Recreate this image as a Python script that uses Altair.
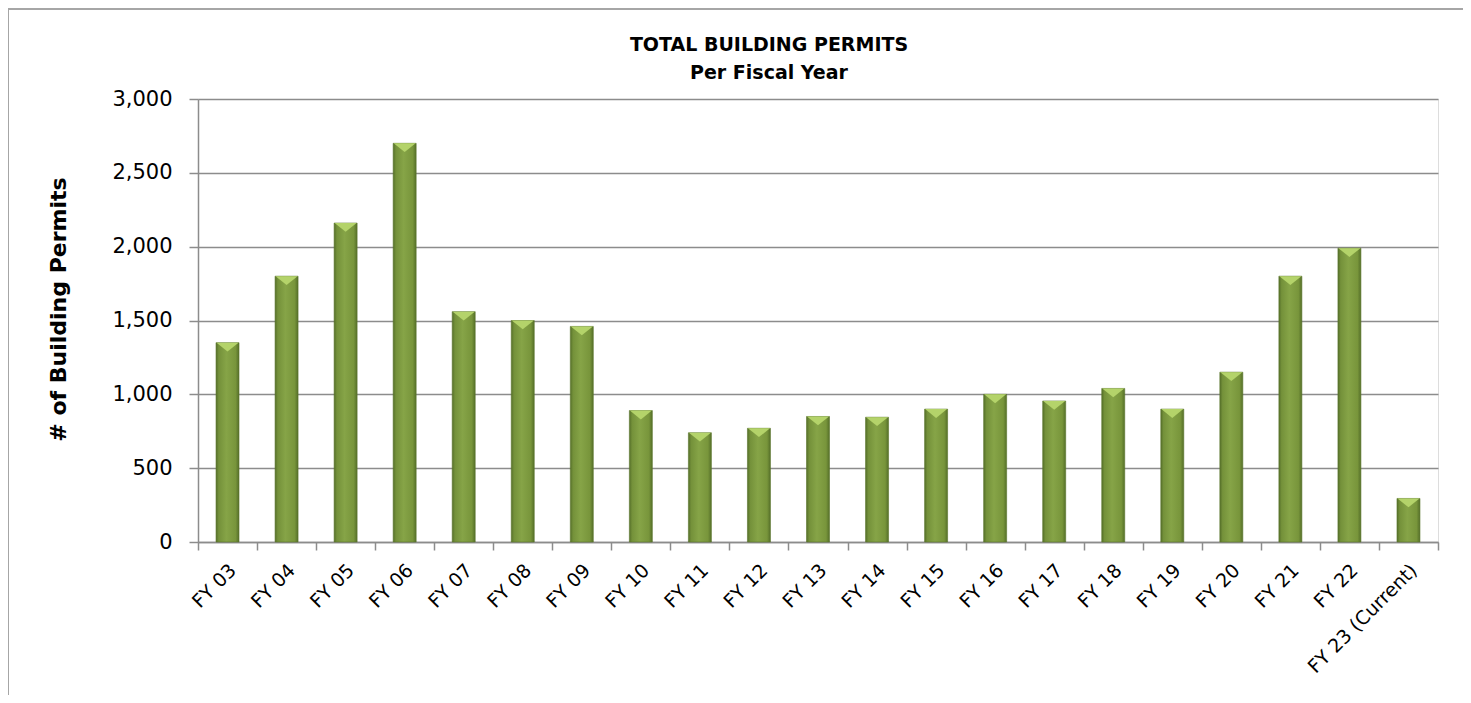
import altair as alt
import pandas as pd

categories = ["FY 03", "FY 04", "FY 05", "FY 06", "FY 07", "FY 08", "FY 09", "FY 10",
              "FY 11", "FY 12", "FY 13", "FY 14", "FY 15", "FY 16", "FY 17", "FY 18",
              "FY 19", "FY 20", "FY 21", "FY 22", "FY 23 (Current)"]
permits = [1350, 1800, 2160, 2700, 1560, 1500, 1460, 890, 740, 770, 850, 845,
           900, 1000, 955, 1040, 900, 1150, 1800, 1990, 295]
y_ticks = [0, 500, 1000, 1500, 2000, 2500, 3000]
title_lines = ["TOTAL BUILDING PERMITS", "Per Fiscal Year"]

df = pd.DataFrame({"year": categories, "permits": permits})

FONT = "DejaVu Sans"

x_enc = alt.X("year:N", sort=categories,
              scale=alt.Scale(paddingInner=0, paddingOuter=0),
              axis=alt.Axis(title=None, labelAngle=-45, labelAlign="right", labelBaseline="middle",
                            labelFont=FONT, labelFontSize=19, labelColor="#000000",
                            labelPadding=17, labelOffset=5,
                            tickBand="extent", tickSize=8, tickColor="#8c8c8c", tickWidth=1.5,
                            domainColor="#8c8c8c", domainWidth=1.5, grid=False))
y_enc = alt.Y("permits:Q",
              scale=alt.Scale(domain=[0, 3000], nice=False),
              axis=alt.Axis(values=y_ticks, format=",d", title="# of Building Permits",
                            labelFont=FONT, labelFontSize=21, labelColor="#000000", labelPadding=17,
                            titleFont=FONT, titleFontSize=22, titleFontWeight="bold", titleColor="#000000",
                            titleAngle=-90, titleX=-140, titleY=210, titleAlign="center",
                            titleBaseline="middle",
                            tickSize=9, tickColor="#8c8c8c", tickWidth=1.5,
                            domainColor="#8c8c8c", domainWidth=1.5,
                            grid=True, gridColor="#8c8c8c", gridWidth=1.5))

bar_gradient = alt.Gradient(
    gradient="linear", x1=0, x2=1, y1=0, y2=0,
    stops=[alt.GradientStop(offset=0, color="#556f29"),
           alt.GradientStop(offset=0.12, color="#74913a"),
           alt.GradientStop(offset=0.45, color="#86a447"),
           alt.GradientStop(offset=0.85, color="#78953b"),
           alt.GradientStop(offset=1, color="#556f29")])

bars = alt.Chart(df).mark_bar(width=23, fill=bar_gradient, stroke="#5a752c", strokeWidth=0.6).encode(
    x=x_enc, y=y_enc)

caps = alt.Chart(df).mark_point(
    shape="M-1,0L1,0L0,0.8Z", size=484, filled=True, fill="#b4d36a", opacity=1,
    strokeWidth=0).encode(x=alt.X("year:N", sort=categories), y="permits:Q")

border = alt.Chart(alt.Data(values=[{"a": 1}])).mark_rule(color="#a6a6a6", strokeWidth=2).encode(
    x=alt.value(-190), y=alt.value(-90), y2=alt.value(700))
border_top = alt.Chart(alt.Data(values=[{"a": 1}])).mark_rule(color="#a6a6a6", strokeWidth=2).encode(
    x=alt.value(-190), x2=alt.value(1300), y=alt.value(-90))

title1 = alt.Chart(alt.Data(values=[{"t": title_lines[0]}])).mark_text(
    font=FONT, fontSize=19, fontWeight="bold", color="#000000", align="center", baseline="alphabetic"
).encode(text="t:N", x=alt.value(571), y=alt.value(-48))
title2 = alt.Chart(alt.Data(values=[{"t": title_lines[1]}])).mark_text(
    font=FONT, fontSize=19, fontWeight="bold", color="#000000", align="center", baseline="alphabetic"
).encode(text="t:N", x=alt.value(571), y=alt.value(-20))

chart = alt.layer(bars, caps, border, border_top, title1, title2).properties(
    width=1240, height=443,
    autosize=alt.AutoSizeParams(type="none"),
    padding={"left": 190, "top": 91, "right": 25, "bottom": 153},
).configure_view(stroke=None).configure(background="#ffffff")

chart.save("out.html", embed_options={"renderer": "svg", "actions": False})
